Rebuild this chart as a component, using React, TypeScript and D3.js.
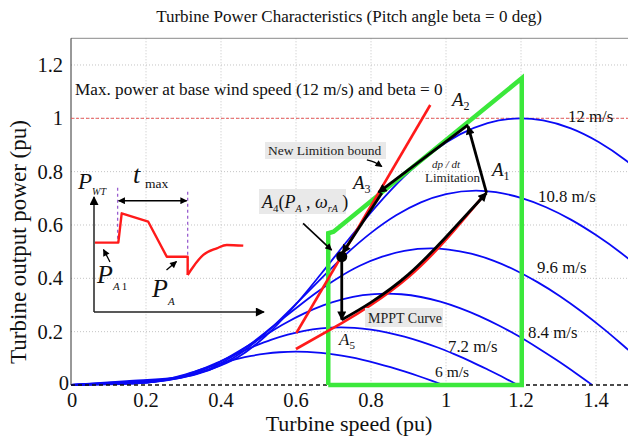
import React from "react";
import * as d3 from "d3";

// ---------- data ----------
const xTicks = [0, 0.2, 0.4, 0.6, 0.8, 1, 1.2, 1.4];
const xTickLabels = ["0", "0.2", "0.4", "0.6", "0.8", "1", "1.2", "1.4"];
const yTicks = [0, 0.2, 0.4, 0.6, 0.8, 1, 1.2];
const yTickLabels = ["0", "0.2", "0.4", "0.6", "0.8", "1", "1.2"];

const windLabels = ["12 m/s", "10.8 m/s", "9.6 m/s", "8.4 m/s", "7.2 m/s", "6 m/s"];

const curve12: [number, number][] = [
  [0, 0], [0.148, 0.0142], [0.296, 0.0313], [0.37, 0.058], [0.444, 0.1031], [0.519, 0.1837], [0.593, 0.2915],
  [0.667, 0.417], [0.741, 0.5475], [0.815, 0.672], [0.889, 0.7824], [0.963, 0.873], [1.037, 0.9396],
  [1.111, 0.982], [1.2, 1.0], [1.259, 0.992], [1.333, 0.9621], [1.407, 0.911], [1.481, 0.8409], [1.5, 0.82],
];
const curve108: [number, number][] = [
  [0, 0], [0.133, 0.0104], [0.267, 0.0228], [0.333, 0.0396], [0.4, 0.0752], [0.467, 0.1339], [0.533, 0.2125],
  [0.6, 0.304], [0.667, 0.3991], [0.733, 0.4899], [0.8, 0.5704], [0.867, 0.6364], [0.933, 0.685],
  [1.0, 0.7159], [1.08, 0.729], [1.133, 0.7232], [1.2, 0.7014], [1.267, 0.6665], [1.333, 0.62],
  [1.4, 0.562], [1.467, 0.495], [1.5, 0.458],
];
const curve96: [number, number][] = [
  [0, 0], [0.119, 0.0073], [0.237, 0.016], [0.296, 0.0278], [0.356, 0.0528], [0.415, 0.0941], [0.474, 0.1492],
  [0.533, 0.2135], [0.593, 0.2803], [0.652, 0.3441], [0.711, 0.4006], [0.77, 0.447], [0.83, 0.4811],
  [0.889, 0.5028], [0.96, 0.512], [1.007, 0.5079], [1.067, 0.4926], [1.126, 0.4664], [1.185, 0.4305],
  [1.244, 0.3857], [1.304, 0.333], [1.363, 0.2738], [1.422, 0.2084], [1.481, 0.1379], [1.5, 0.115],
];
const curve84: [number, number][] = [
  [0, 0], [0.104, 0.0049], [0.207, 0.0107], [0.259, 0.0186], [0.311, 0.0354], [0.363, 0.063], [0.415, 0.1],
  [0.467, 0.143], [0.519, 0.1878], [0.57, 0.2305], [0.622, 0.2684], [0.674, 0.2994], [0.726, 0.3223],
  [0.778, 0.3368], [0.84, 0.343], [0.881, 0.3403], [0.933, 0.33], [0.985, 0.3125], [1.037, 0.2884],
  [1.089, 0.2584], [1.141, 0.2231], [1.193, 0.1834], [1.244, 0.1396], [1.296, 0.0924], [1.348, 0.0422],
  [1.39, 0],
];
const curve72: [number, number][] = [
  [0, 0], [0.089, 0.0031], [0.178, 0.0068], [0.222, 0.0117], [0.267, 0.0223], [0.311, 0.0397], [0.356, 0.063],
  [0.4, 0.0901], [0.444, 0.1183], [0.489, 0.1452], [0.533, 0.169], [0.578, 0.1886], [0.622, 0.203],
  [0.667, 0.2121], [0.72, 0.216], [0.756, 0.2143], [0.8, 0.2078], [0.844, 0.1968], [0.889, 0.1816],
  [0.933, 0.1627], [0.978, 0.1405], [1.022, 0.1155], [1.067, 0.0879], [1.111, 0.0582], [1.156, 0.0265],
  [1.191, 0],
];
const curve6: [number, number][] = [
  [0, 0], [0.074, 0.0018], [0.148, 0.0039], [0.185, 0.0068], [0.222, 0.0129], [0.259, 0.023], [0.296, 0.0364],
  [0.333, 0.0521], [0.37, 0.0684], [0.407, 0.084], [0.444, 0.0978], [0.481, 0.1091], [0.519, 0.1175],
  [0.556, 0.1228], [0.6, 0.125], [0.63, 0.124], [0.667, 0.1203], [0.704, 0.1139], [0.741, 0.1051],
  [0.778, 0.0942], [0.815, 0.0813], [0.852, 0.0669], [0.889, 0.0509], [0.926, 0.0337], [0.963, 0.0154],
  [0.993, 0],
];
const powerCurves = [curve12, curve108, curve96, curve84, curve72, curve6];

// limitation bound (green)
const greenBound: [number, number][] = [
  [0.686, 0], [0.686, 0.569], [0.70, 0.575], [1.202, 1.15], [1.202, 0], [0.686, 0],
];
// tangent red line
const redTangent: [number, number][] = [[0.601, 0.195], [0.958, 1.05]];
// MPPT red curve
const mpptCurve: [number, number][] = [
  [0.6, 0.135], [0.722, 0.232], [0.8, 0.3], [0.9, 0.405], [1.0, 0.545], [1.1, 0.71],
];
// operating trajectory (black)
const trajA5A1: [number, number][] = [
  [0.722, 0.245], [0.8, 0.31], [0.9, 0.415], [1.0, 0.555], [1.108, 0.72],
];
const trajA4A5: [number, number][] = [[0.722, 0.462], [0.722, 0.245]];
const trajA1A2: [number, number][] = [[1.108, 0.72], [1.059, 0.97]];
const trajA2A3: [number, number][] = [[1.059, 0.975], [0.82, 0.722]];
const trajA3A4: [number, number][] = [[0.829, 0.72], [0.724, 0.495]];
const pointA4: [number, number] = [0.722, 0.481];
const arrowA4Label: [number, number][] = [[0.619, 0.606], [0.695, 0.506]];
const arrowNewBound: [number, number][] = [[0.789, 0.844], [0.81, 0.835], [0.829, 0.819]];

// inset (schematic of P_WT vs time)
const insetT = [0.06, 1.43, 1.63, 3.19, 4.28, 5.51, 5.51];
const insetP = [0.603, 0.603, 0.858, 0.785, 0.481, 0.481, 0.322];
const insetRecT = [5.51, 5.84, 6.43, 7.22, 7.81, 8.78];
const insetRecP = [0.322, 0.394, 0.496, 0.554, 0.583, 0.577];
const insetMarks = [1.39, 5.51];

// ---------- component ----------
export default function App() {
  const W = 628, H = 440;
  const x = d3.scaleLinear().domain([0, 1.5]).range([71, 633.5]);
  const y = d3.scaleLinear().domain([0, 1.3]).range([385, 38.3]);
  const line = d3.line<[number, number]>().x((d) => x(d[0])).y((d) => y(d[1]));
  const smooth = d3.line<[number, number]>().x((d) => x(d[0])).y((d) => y(d[1])).curve(d3.curveMonotoneX);
  const curvy = d3.line<[number, number]>().x((d) => x(d[0])).y((d) => y(d[1])).curve(d3.curveNatural);

  const ix = d3.scaleLinear().domain([0, 10]).range([94, 264]);
  const iy = d3.scaleLinear().domain([0, 1]).range([312, 197]);
  const iline = d3.line<number>().x((_, i) => ix(insetT[i])).y((d) => iy(d));
  const irec = d3.line<number>().x((_, i) => ix(insetRecT[i])).y((d) => iy(d)).curve(d3.curveMonotoneX);

  const serif = "'Liberation Serif', 'Times New Roman', serif";
  const blue = "#0a0af5";
  const green = "#3be83b";
  const red = "#ff1a1a";

  return (
    <svg width={W} height={H} style={{ position: "absolute", left: 0, top: 0, background: "#fff" }} fontFamily={serif}>
      <defs>
        <marker id="ah" viewBox="0 0 10 10" refX="9" refY="5" markerWidth="10" markerHeight="9" markerUnits="userSpaceOnUse" orient="auto">
          <path d="M0,0 L10,5 L0,10 z" fill="#000" />
        </marker>
        <marker id="ahs" viewBox="0 0 10 10" refX="9" refY="5" markerWidth="8" markerHeight="7" markerUnits="userSpaceOnUse" orient="auto">
          <path d="M0,0 L10,5 L0,10 z" fill="#000" />
        </marker>
        <marker id="ahb" viewBox="0 0 10 10" refX="1" refY="5" markerWidth="8" markerHeight="7" markerUnits="userSpaceOnUse" orient="auto">
          <path d="M10,0 L0,5 L10,10 z" fill="#000" />
        </marker>
        <clipPath id="plotclip">
          <rect x={71} y={37} width={W - 71} height={385 - 37 + 3} />
        </clipPath>
      </defs>

      {/* title */}
      <text x={349} y={22} fontSize={17} textAnchor="middle" fill="#111">
        Turbine Power Characteristics (Pitch angle beta = 0 deg)
      </text>

      {/* grid */}
      {xTicks.slice(1).map((t) => (
        <line key={"gx" + t} x1={x(t)} x2={x(t)} y1={y(1.3)} y2={y(0)} stroke="#c4c4c4" strokeWidth={1} strokeDasharray="1,2" />
      ))}
      {yTicks.slice(1).map((t) => (
        <line key={"gy" + t} x1={x(0)} x2={W} y1={y(t)} y2={y(t)} stroke="#c4c4c4" strokeWidth={1} strokeDasharray="1,2" />
      ))}
      {/* frame */}
      <line x1={x(0)} x2={W} y1={y(1.3)} y2={y(1.3)} stroke="#8a8a8a" strokeWidth={1} />
      <line x1={x(0)} x2={x(0)} y1={y(1.3)} y2={y(0)} stroke="#333" strokeWidth={1} />

      {/* red dashed max line at p=1 */}
      <line x1={x(0)} x2={W} y1={y(1)} y2={y(1)} stroke="#e85a5a" strokeWidth={1} strokeDasharray="3,2" />

      {/* tick labels */}
      {yTicks.map((t, i) => (
        <text key={"yl" + t} x={t === 0 ? 69 : 63} y={y(t) + (t === 0 ? 5 : 7)} fontSize={20.5} textAnchor="end" fill="#111">
          {yTickLabels[i]}
        </text>
      ))}
      {xTicks.map((t, i) => (
        <text key={"xl" + t} x={x(t) + (t === 0 ? 1 : 0)} y={407} fontSize={20.5} textAnchor="middle" fill="#111">
          {xTickLabels[i]}
        </text>
      ))}
      <text x={349} y={431} fontSize={22} textAnchor="middle" fill="#111">Turbine speed (pu)</text>
      <text transform="translate(26,242) rotate(-90)" fontSize={23} textAnchor="middle" fill="#111">
        Turbine output power (pu)
      </text>

      <g clipPath="url(#plotclip)">
        {/* power curves */}
        {powerCurves.map((c, i) => (
          <path key={"pc" + i} d={smooth(c) || ""} fill="none" stroke={blue} strokeWidth={1.8} />
        ))}
        {/* zero dashed line */}
        <line x1={x(0)} x2={W} y1={y(0)} y2={y(0)} stroke="#111" strokeWidth={1.6} strokeDasharray="4,3" />
        {/* green limitation bound */}
        <path d={line(greenBound) || ""} fill="none" stroke={green} strokeWidth={4.5} strokeLinejoin="miter" />
        {/* red tangent + MPPT */}
        <path d={line(redTangent) || ""} fill="none" stroke={red} strokeWidth={2.6} />
        <path d={curvy(mpptCurve) || ""} fill="none" stroke={red} strokeWidth={2.6} />
        {/* trajectory */}
        <path d={curvy(trajA5A1) || ""} fill="none" stroke="#000" strokeWidth={2.8} markerEnd="url(#ah)" />
        <path d={line(trajA4A5) || ""} fill="none" stroke="#000" strokeWidth={2.8} markerEnd="url(#ah)" />
        <path d={line(trajA1A2) || ""} fill="none" stroke="#000" strokeWidth={2.8} markerEnd="url(#ah)" />
        <path d={line(trajA2A3) || ""} fill="none" stroke="#000" strokeWidth={2.8} markerEnd="url(#ah)" />
        <path d={line(trajA3A4) || ""} fill="none" stroke="#000" strokeWidth={2.8} markerEnd="url(#ah)" />
        <circle cx={x(pointA4[0])} cy={y(pointA4[1])} r={5.5} fill="#000" />
        {/* annotation arrows */}
        <path d={line(arrowA4Label) || ""} fill="none" stroke="#000" strokeWidth={1.6} markerEnd="url(#ahs)" />
        <path d={curvy(arrowNewBound) || ""} fill="none" stroke="#000" strokeWidth={1.3} markerEnd="url(#ahs)" />
      </g>

      {/* wind speed labels */}
      <text x={568} y={122} fontSize={16.8} fill="#111">{windLabels[0]}</text>
      <text x={538} y={202} fontSize={16.8} fill="#111">{windLabels[1]}</text>
      <text x={537} y={273} fontSize={16.8} fill="#111">{windLabels[2]}</text>
      <text x={528} y={338} fontSize={16.8} fill="#111">{windLabels[3]}</text>
      <text x={448} y={352} fontSize={16.8} fill="#111">{windLabels[4]}</text>
      <text x={435} y={377} fontSize={15.5} fill="#111">{windLabels[5]}</text>

      {/* annotations */}
      <text x={75} y={95} fontSize={17.2} fill="#111">Max. power at base wind speed (12 m/s) and beta = 0</text>

      <rect x={265} y={142} width={121} height={17} fill="#e9e9e9" />
      <text x={268} y={155} fontSize={13.5} fill="#222">New Limition bound</text>

      <rect x={259} y={189} width={87} height={25} fill="#e9e9e9" />
      <text x={262} y={208} fontSize={18} fill="#111">
        <tspan fontStyle="italic">A</tspan>
        <tspan fontSize={11} dy={4}>4</tspan>
        <tspan dy={-4}>(</tspan>
        <tspan fontStyle="italic">P</tspan>
        <tspan fontSize={10} fontStyle="italic" dy={4}>A</tspan>
        <tspan dy={-4}> , </tspan>
        <tspan fontStyle="italic">ω</tspan>
        <tspan fontSize={10} fontStyle="italic" dy={4}>rA</tspan>
        <tspan dy={-4}> )</tspan>
      </text>

      <rect x={365} y={308} width={78} height={19} fill="#e9e9e9" />
      <text x={368} y={323} fontSize={14} fill="#222">MPPT Curve</text>

      <text x={432} y={168} fontSize={11} fontStyle="italic" fill="#222">dp / dt</text>
      <text x={425} y={182} fontSize={13} fill="#222">Limitation</text>

      <text x={452} y={106} fontSize={19} fill="#111">
        <tspan fontStyle="italic">A</tspan><tspan fontSize={12} dy={4}>2</tspan>
      </text>
      <text x={492} y={176} fontSize={19} fill="#111">
        <tspan fontStyle="italic">A</tspan><tspan fontSize={12} dy={4}>1</tspan>
      </text>
      <text x={353} y={189} fontSize={19} fill="#111">
        <tspan fontStyle="italic">A</tspan><tspan fontSize={12} dy={4}>3</tspan>
      </text>
      <text x={339} y={345} fontSize={17} fill="#111">
        <tspan fontStyle="italic">A</tspan><tspan fontSize={11} dy={4}>5</tspan>
      </text>

      {/* inset */}
      <g>
        <line x1={ix(0)} x2={ix(0)} y1={iy(0)} y2={iy(1.0)} stroke="#222" strokeWidth={1.5} markerEnd="url(#ah)" />
        <line x1={ix(0)} x2={ix(10)} y1={iy(0)} y2={iy(0)} stroke="#222" strokeWidth={1.5} markerEnd="url(#ah)" />
        {insetMarks.map((m, i) => (
          <line key={"im" + i} x1={ix(m)} x2={ix(m)} y1={iy(i === 0 ? 1.08 : 1.046)} y2={iy(insetP[i === 0 ? 1 : 6])}
            stroke="#9a5fd0" strokeWidth={1.3} strokeDasharray="3,3" />
        ))}
        <line x1={ix(insetMarks[0]) + 1} x2={ix(insetMarks[1]) - 1} y1={iy(0.968)} y2={iy(0.968)} stroke="#000" strokeWidth={1.4}
          markerStart="url(#ahb)" markerEnd="url(#ahs)" />
        <path d={iline(insetP) || ""} fill="none" stroke={red} strokeWidth={2.4} strokeLinejoin="round" />
        <path d={irec(insetRecP) || ""} fill="none" stroke={red} strokeWidth={2.4} />
        <line x1={110} y1={262} x2={103.5} y2={249.5} stroke="#000" strokeWidth={1.3} markerEnd="url(#ahs)" />
        <line x1={166.5} y1={270} x2={176.5} y2={261.5} stroke="#000" strokeWidth={1.3} markerEnd="url(#ahs)" />

        <text x={78} y={189} fontSize={23} fill="#111">
          <tspan fontStyle="italic">P</tspan><tspan fontSize={10} fontStyle="italic" dy={6}>WT</tspan>
        </text>
        <text x={133} y={183} fontSize={26} fontStyle="italic" fill="#111">t</text>
        <text x={145} y={188} fontSize={13.5} fill="#111">max</text>
        <text x={97} y={283} fontSize={26} fill="#111">
          <tspan fontStyle="italic">P</tspan><tspan fontSize={11} fontStyle="italic" dy={7}>A</tspan><tspan fontSize={11} dx={2}>1</tspan>
        </text>
        <text x={152} y={297} fontSize={26} fill="#111">
          <tspan fontStyle="italic">P</tspan><tspan fontSize={11} fontStyle="italic" dy={8}>A</tspan>
        </text>
      </g>
    </svg>
  );
}
